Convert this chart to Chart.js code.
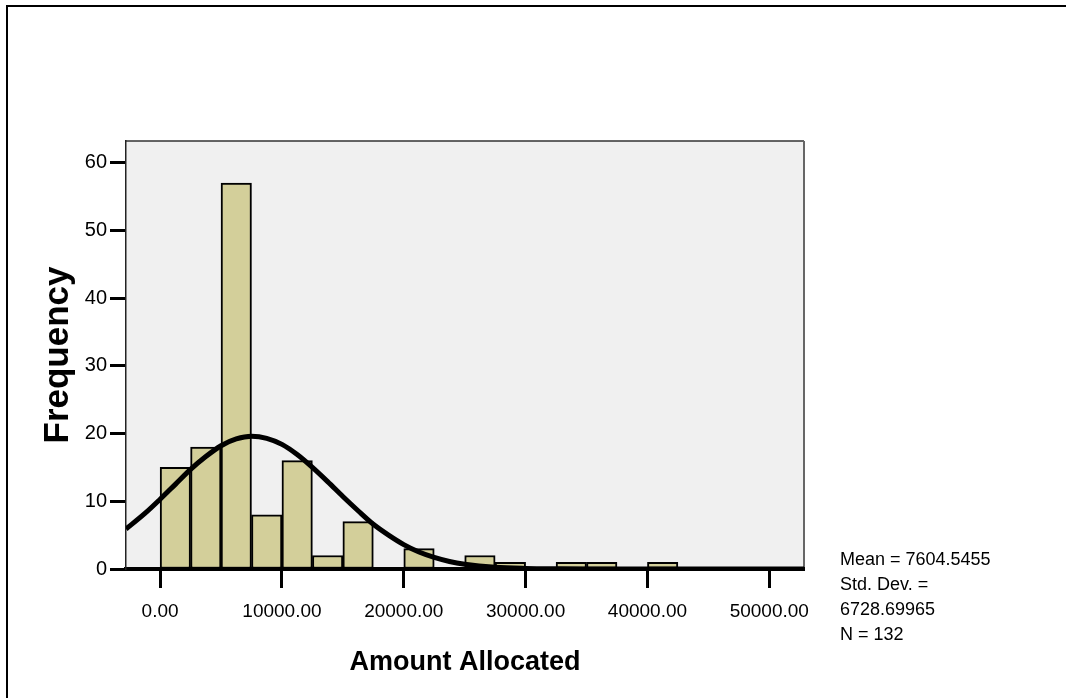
<!DOCTYPE html>
<html>
<head>
<meta charset="utf-8">
<script src="https://cdn.jsdelivr.net/npm/chart.js@4.4.1/dist/chart.umd.min.js"></script>
<style>
  body { margin: 0; background: #fff; overflow: hidden; }
  #frame { position: absolute; left: 6px; top: 5px; width: 2000px; height: 2000px; border: 2px solid #000; }
  #graph { position: absolute; left: 0; top: 0; }
  #stats { position: absolute; left: 840px; top: 547px; font-family: "Liberation Sans", Arial, sans-serif; font-size: 18px; line-height: 25px; color: #000; }
</style>
</head>
<body>
<div id="frame"></div>
<canvas id="graph" width="1066" height="698"></canvas>
<div id="stats">Mean = 7604.5455<br>Std. Dev. =<br>6728.69965<br>N = 132</div>
<script>
// histogram bins (centre of each 2500 wide bin) and counts
var binCenters = [1250, 3750, 6250, 8750, 11250, 13750, 16250, 18750, 21250, 23750, 26250, 28750, 31250, 33750, 36250, 38750, 41250]
var counts = [15, 18, 57, 8, 16, 2, 7, 0, 3, 0, 2, 1, 0, 1, 1, 0, 1]

// normal curve
var curveX = [-2800, -1250, 0, 1250, 2500, 3750, 5000, 6250, 7500, 8750, 10000, 11250, 12500, 13750, 15000, 16250, 17500, 18750, 20000, 21250, 22500, 23750, 25000, 27500, 30000, 32500, 35000, 52850]
var curveY = [5.9, 8.2, 10.3, 12.5, 14.7, 16.6, 18.2, 19.2, 19.6, 19.3, 18.4, 16.9, 15.0, 12.9, 10.7, 8.6, 6.6, 5.0, 3.6, 2.5, 1.7, 1.1, 0.7, 0.25, 0.08, 0.02, 0, 0]

var xTickValues = [0, 10000, 20000, 30000, 40000, 50000]
var yTickValues = [0, 10, 20, 30, 40, 50, 60]

var font = "'Liberation Sans', Arial, sans-serif"

var plotBox = {
    id: 'plotBox',
    beforeDraw: function (chart) {
        var a = chart.chartArea, c = chart.ctx
        c.save()
        c.fillStyle = '#f0f0f0'
        c.fillRect(a.left, a.top, a.right - a.left, a.bottom - a.top)
        c.strokeStyle = '#333'
        c.lineWidth = 1.5
        c.beginPath()
        c.moveTo(a.left, a.top)
        c.lineTo(a.right, a.top)
        c.stroke()
        c.strokeStyle = '#666'
        c.lineWidth = 2
        c.beginPath()
        c.moveTo(a.right, a.top)
        c.lineTo(a.right, a.bottom)
        c.stroke()
        c.restore()
    }
}

var ctx = document.getElementById('graph').getContext('2d')
var graph = new Chart(ctx, {
    data: {
        datasets: [{
            type: 'line',
            data: curveX.map(function (x, i) { return {x: x, y: curveY[i]} }),
            borderColor: '#000',
            borderWidth: 5,
            pointRadius: 0,
            cubicInterpolationMode: 'monotone',
            order: 0
        }, {
            type: 'bar',
            data: binCenters.map(function (x, i) { return {x: x, y: counts[i]} }),
            backgroundColor: '#d3cf9a',
            borderColor: '#000',
            borderWidth: 2,
            borderSkipped: false,
            barPercentage: 1,
            categoryPercentage: 1,
            order: 1
        }]
    },
    options: {
        responsive: false,
        animation: false,
        events: [],
        layout: { padding: { left: 0, top: 141, right: 262, bottom: 0 } },
        plugins: { legend: { display: false }, tooltip: { enabled: false } },
        scales: {
            x: {
                type: 'linear',
                min: -2800,
                max: 52850,
                offset: false,
                afterFit: function (s) { s.height = 129 },
                afterBuildTicks: function (s) { s.ticks = xTickValues.map(function (v) { return {value: v} }) },
                grid: { display: true, drawOnChartArea: false, drawTicks: true, tickLength: 19, tickWidth: 3, tickColor: '#000', offset: false },
                border: { display: true, color: '#000', width: 4 },
                ticks: {
                    autoSkip: false, maxRotation: 0, padding: 12, color: '#000',
                    font: { family: font, size: 19 },
                    callback: function (v) { return v.toFixed(2) }
                },
                title: {
                    display: true, text: 'Amount Allocated', color: '#000',
                    font: { family: font, size: 27, weight: 'bold' },
                    padding: { top: 0, bottom: 19 }
                }
            },
            y: {
                min: 0,
                max: 63.2,
                afterFit: function (s) { s.width = 126 },
                afterBuildTicks: function (s) { s.ticks = yTickValues.map(function (v) { return {value: v} }) },
                grid: { display: true, drawOnChartArea: false, drawTicks: true, tickLength: 16, tickWidth: 3, tickColor: '#000' },
                border: { display: true, color: '#222', width: 1.5 },
                ticks: { padding: 3, color: '#000', font: { family: font, size: 20 } },
                title: {
                    display: true, text: 'Frequency', color: '#000',
                    font: { family: font, size: 35, weight: 'bold' },
                    padding: { top: 37, bottom: 0 }
                }
            }
        }
    },
    plugins: [plotBox]
})
</script>
</body>
</html>
